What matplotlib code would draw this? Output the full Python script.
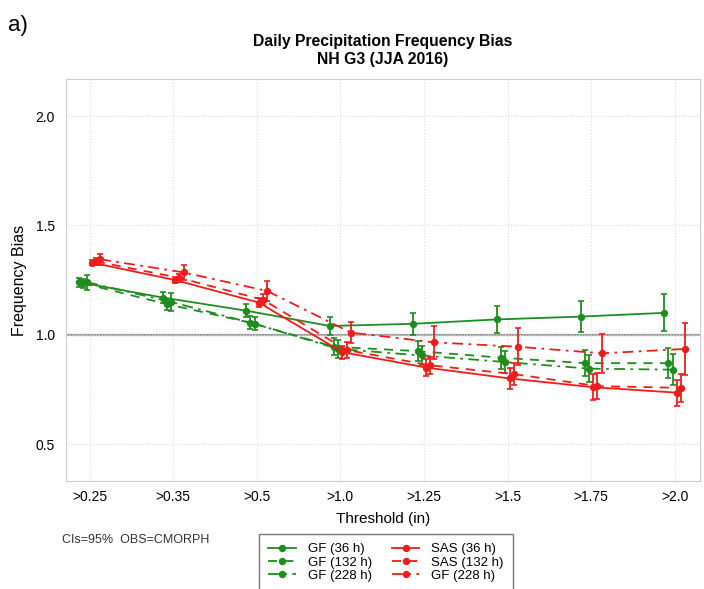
import numpy as np
import matplotlib
matplotlib.use("Agg")
import matplotlib.pyplot as plt
from matplotlib.lines import Line2D
from matplotlib.legend_handler import HandlerLine2D

plt.rcParams['font.family'] = ['Liberation Sans', 'DejaVu Sans']

thresholds = ['>0.25', '>0.35', '>0.5', '>1.0', '>1.25', '>1.5', '>1.75', '>2.0']

labels = ['GF (36 h)', 'GF (132 h)', 'GF (228 h)', 'SAS (36 h)', 'SAS (132 h)', 'GF (228 h)']

gf_36 = [1.24, 1.17, 1.11, 1.04, 1.05, 1.07, 1.083, 1.10]
gf_132 = [1.235, 1.14, 1.055, 0.945, 0.925, 0.895, 0.87, 0.87]
gf_228 = [1.24, 1.15, 1.05, 0.935, 0.905, 0.875, 0.845, 0.84]
sas_36 = [1.33, 1.25, 1.147, 0.92, 0.85, 0.80, 0.76, 0.735]
sas_132 = [1.335, 1.26, 1.16, 0.93, 0.86, 0.82, 0.765, 0.757]
gf_228_b = [1.345, 1.285, 1.20, 1.01, 0.965, 0.945, 0.915, 0.935]

# 95% CI half widths
ci_gf_36 = [0.02, 0.025, 0.03, 0.04, 0.05, 0.06, 0.07, 0.085]
ci_gf_132 = [0.02, 0.025, 0.03, 0.04, 0.045, 0.05, 0.06, 0.07]
ci_gf_228 = [0.035, 0.04, 0.03, 0.04, 0.045, 0.05, 0.06, 0.07]
ci_sas_36 = [0.01, 0.015, 0.02, 0.03, 0.04, 0.05, 0.06, 0.06]
ci_sas_132 = [0.015, 0.02, 0.025, 0.035, 0.04, 0.05, 0.06, 0.065]
ci_gf_228_b = [0.025, 0.035, 0.045, 0.05, 0.075, 0.085, 0.09, 0.12]

series = [gf_36, gf_132, gf_228, sas_36, sas_132, gf_228_b]
cis = [ci_gf_36, ci_gf_132, ci_gf_228, ci_sas_36, ci_sas_132, ci_gf_228_b]
colors = ['#1e8c1e'] * 3 + ['#f01c1c'] * 3
styles = ['-', (0, (5, 4)), (0, (6, 3, 1.5, 3))] * 2
offsets = [-0.125, -0.075, -0.025, 0.025, 0.075, 0.125]


class EndMarkerHandler(HandlerLine2D):
    # put the marker at the right end of the legend line
    def get_xdata(self, legend, xdescent, ydescent, width, height, fontsize):
        xdata, _ = super().get_xdata(legend, xdescent, ydescent, width, height, fontsize)
        return xdata, [xdata[-1]]


fig = plt.figure(figsize=(7.04, 5.89), dpi=100)
ax = fig.add_axes([0.094, 0.183, 0.9, 0.683])

x = np.arange(1, len(thresholds) + 1)
ax.axhline(1.0, color='#a0a0a0', lw=1.6, zorder=1)

handles = []
for vals, ci, c, ls, off, lab in zip(series, cis, colors, styles, offsets, labels):
    xs = x + off
    line, = ax.plot(xs, vals, color=c, ls=ls, lw=1.3, marker='o', ms=4.3, label=lab, zorder=3)
    ax.errorbar(xs, vals, yerr=ci, fmt='none', ecolor=c, elinewidth=1.3, capsize=2.5, capthick=1.2, zorder=3)
    handles.append(line)

ax.set_xlim(0.72, 8.3)
ax.set_ylim(0.33, 2.17)
ax.set_xticks(x)
ax.set_xticklabels(thresholds)
ax.set_yticks([0.5, 1.0, 1.5, 2.0])
ax.tick_params(axis='x', length=0, labelsize=10, pad=6)
ax.tick_params(axis='y', length=0, labelsize=10, pad=8)
ax.grid(True, color='#dddddd', ls=':', lw=0.8)
for s in ax.spines.values():
    s.set_color('#cccccc')

ax.set_xlabel('Threshold (in)', fontsize=11, labelpad=6)
ax.set_ylabel('Frequency Bias', fontsize=11.5, labelpad=6)
ax.set_title('Daily Precipitation Frequency Bias\nNH G3 (JJA 2016)', fontsize=11.3, fontweight='bold', pad=11)

fig.text(0.012, 0.975, 'a)', fontsize=16, va='top')
fig.text(62 / 704, 1 - 540 / 589, 'CIs=95%  OBS=CMORPH', fontsize=9, color='#333333', va='center')

leg = fig.legend(handles, labels, ncol=2, loc='upper left',
                 bbox_to_anchor=(259 / 704, 1 - 534 / 589), borderaxespad=0,
                 fontsize=9.5, frameon=True, fancybox=False, edgecolor='#555555',
                 handlelength=2.1, handletextpad=0.9, labelspacing=0.08, columnspacing=1.5,
                 borderpad=0.7, handler_map={Line2D: EndMarkerHandler(numpoints=1)})
leg.get_frame().set_linewidth(1.0)

fig.savefig('out.png', dpi=100)
